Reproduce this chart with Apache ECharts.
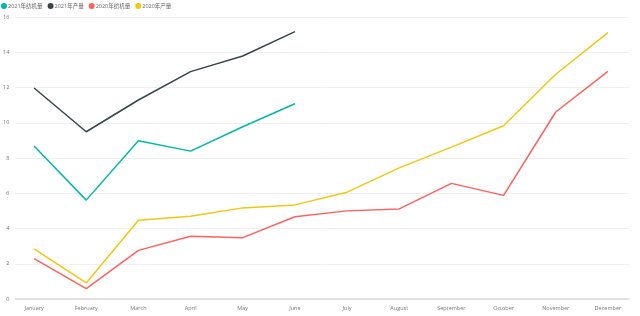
<!DOCTYPE html>
<html><head><meta charset="utf-8">
<script src="https://cdn.jsdelivr.net/npm/echarts@6/dist/echarts.min.js"></script>
<style>html,body{margin:0;padding:0;background:#fff}#c{width:640px;height:316px}</style>
</head><body><div id="c"></div>
<script>
const months = ['January','February','March','April','May','June','July','August','September','October','November','December'];
const seriesNames = ['2021年纺机量','2021年产量','2020年纺机量','2020年产量'];
const s2021Machine = [8.68, 5.61, 8.98, 8.39, 9.77, 11.08];
const s2021Output = [11.97, 9.49, 11.29, 12.90, 13.79, 15.17];
const s2020Machine = [2.29, 0.59, 2.76, 3.56, 3.48, 4.67, 5.00, 5.11, 6.56, 5.88, 10.61, 12.92];
const s2020Output = [2.85, 0.91, 4.47, 4.70, 5.17, 5.34, 6.06, 7.44, 8.62, 9.83, 12.75, 15.11];
const yTicks = [0, 2, 4, 6, 8, 10, 12, 14, 16];
const colors = ['#01B8AA', '#374649', '#FD625E', '#F2C80F'];

const chart = echarts.init(document.getElementById('c'));
const font = 'Segoe UI, "Open Sans", "Noto Sans CJK SC", sans-serif';
const data = [s2021Machine, s2021Output, s2020Machine, s2020Output];
chart.setOption({
  animation: false,
  legend: {
    left: 1, top: 3, itemWidth: 6, itemHeight: 6, itemGap: 5, icon: 'circle', padding: 0,
    textStyle: { fontSize: 5.5, color: '#666', fontFamily: font, padding: [0,0,0,-4] },
    data: seriesNames
  },
  grid: [
    { left: 14, right: 11, top: 17, bottom: 17 },
    { left: 8, right: 6, top: 17, bottom: 17 }
  ],
  xAxis: [
    { gridIndex: 0, type: 'category', data: months, boundaryGap: true,
      axisLine: { lineStyle: { color: '#d9d9d9', width: 1.5 } }, axisTick: { show: false }, axisLabel: { show: false } },
    { gridIndex: 1, type: 'category', data: months, boundaryGap: true,
      axisLine: { show: false }, axisTick: { show: false },
      axisLabel: { fontSize: 5.5, color: '#777', fontFamily: font, margin: 7, interval: 0 } }
  ],
  yAxis: [
    { gridIndex: 0, type: 'value', min: yTicks[0], max: yTicks[yTicks.length-1], interval: 2,
      axisLine: { show: false }, axisTick: { show: false },
      axisLabel: { fontSize: 5.5, color: '#777', fontFamily: font, margin: 6 },
      splitLine: { lineStyle: { color: '#f0f0f0', width: 1 } } },
    { gridIndex: 1, type: 'value', min: yTicks[0], max: yTicks[yTicks.length-1], interval: 2,
      axisLine: { show: false }, axisTick: { show: false }, axisLabel: { show: false }, splitLine: { show: false } }
  ],
  series: seriesNames.map((n, i) => ({
    name: n, type: 'line', xAxisIndex: 1, yAxisIndex: 1, data: data[i],
    symbol: 'none', lineStyle: { width: 1.5, color: colors[i] }, itemStyle: { color: colors[i] }
  }))
});
</script></body></html>
